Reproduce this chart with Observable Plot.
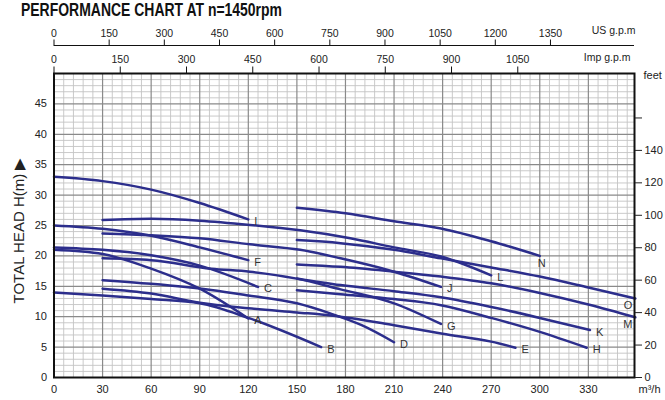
<!DOCTYPE html>
<html>
<head>
<meta charset="utf-8">
<script src="https://cdn.jsdelivr.net/npm/d3@7"></script>
<script src="https://cdn.jsdelivr.net/npm/@observablehq/plot@0.6"></script>
<style>
  html, body { margin: 0; padding: 0; background: #fff; }
  #wrap { position: relative; width: 665px; height: 400px; overflow: hidden; }
  #title {
    position: absolute; left: 21px; top: 0px;
    font-family: "Liberation Sans", Arial, sans-serif;
    font-weight: bold; font-size: 18px; color: #111; white-space: nowrap;
    transform-origin: left top; display: inline-block; line-height: 21px;
  }
  #chart { position: absolute; left: 0; top: 0; }
</style>
</head>
<body>
<div id="wrap">
  <div id="chart"></div>
  <div id="title">PERFORMANCE CHART AT n=1450rpm</div>
</div>
<script>
// ---- tick labels ----
const flowTicks = [0, 30, 60, 90, 120, 150, 180, 210, 240, 270, 300, 330];      // m³/h
const headTicks = [0, 5, 10, 15, 20, 25, 30, 35, 40, 45];                          // m
const feetTicks = [0, 20, 40, 60, 80, 100, 120, 140, 160];                         // feet (right)
const usGpmTicks = [0, 150, 300, 450, 600, 750, 900, 1050, 1200, 1350];            // US g.p.m
const impGpmTicks = [0, 150, 300, 450, 600, 750, 900, 1050];                       // Imp g.p.m

// ---- unit conversions used by the secondary axes ----
const US_GPM_PER_M3H = 4.403;
const IMP_GPM_PER_M3H = 3.666;
const M_PER_FOOT_SCALE = 0.2668;   // the chart's feet scale, expressed in metres of the left axis

// ---- curves: [flow m³/h, head m] ----
const curveLabels = ["A","B","C","D","E","F","G","H","I","J","K","L","M","N","O"];
const curveI = [[0,33.0],[30,32.3],[60,30.9],[90,28.7],[120,26.0]];
const curveF = [[0,25.0],[30,24.45],[60,23.3],[90,21.4],[120,19.3]];
const curveC = [[0,21.4],[30,21.0],[60,20.1],[90,18.4],[126,14.9]];
const curveA = [[0,21.0],[30,20.3],[60,17.9],[90,14.6],[120,9.7]];
const curveB = [[0,14.0],[30,13.5],[60,12.9],[90,12.2],[120,9.8],[165,5.0]];
const curveE = [[30,14.6],[60,13.8],[90,12.3],[120,11.4],[150,10.7],[171,10.2],[210,8.6],[240,7.2],[270,5.9],[285,4.9]];
const curveD = [[30,16.0],[60,15.4],[97,14.4],[120,13.5],[150,12.2],[171,10.5],[190,8.6],[210,5.8]];
const curveG = [[30,19.6],[60,19.3],[97,17.9],[121,17.4],[149,16.3],[177,14.5],[210,12.2],[239,8.8]];
const curveJ = [[30,23.7],[60,23.4],[90,22.9],[121,21.9],[152,21.0],[177,19.6],[210,17.4],[239,14.9]];
const curveL = [[30,25.9],[60,26.1],[90,25.8],[121,25.1],[152,24.2],[183,22.9],[210,21.4],[239,19.9],[270,16.8]];
const curveN = [[150,27.9],[180,27.0],[210,25.7],[239,24.5],[270,22.4],[300,20.0]];
const curveO = [[150,22.6],[177,22.1],[210,21.0],[239,19.6],[270,18.1],[300,16.6],[330,14.8],[359,13.0]];
const curveM = [[150,18.6],[177,18.2],[210,17.4],[239,16.6],[270,15.5],[300,13.9],[330,12.0],[359,9.9]];
const curveK = [[150,16.3],[177,15.2],[210,14.2],[239,13.2],[270,11.6],[300,9.8],[331,7.8]];
const curveH = [[150,14.35],[177,13.7],[210,12.9],[239,11.9],[270,9.8],[300,7.5],[329,4.9]];

const curves = {A: curveA, B: curveB, C: curveC, D: curveD, E: curveE, F: curveF, G: curveG, H: curveH,
                I: curveI, J: curveJ, K: curveK, L: curveL, M: curveM, N: curveN, O: curveO};

const rows = curveLabels.flatMap(k => curves[k].map(([q, h]) => ({curve: k, q, h})));
const ends = curveLabels.map(k => { const p = curves[k][curves[k].length - 1]; return {curve: k, q: p[0], h: p[1]}; });
const endsRight = ends.filter(d => d.curve === "M" || d.curve === "O");
const endsBelow = ends.filter(d => d.curve === "N");
const endsMain = ends.filter(d => !["M","O","N"].includes(d.curve));

// ---- layout ----
const W = 665, H = 400;
const mL = 53.5, mR = 31, mT = 73, mB = 23;
const X_MAX = 358.5, Y_MAX = 50;
const pxToY = (pxAboveTop) => Y_MAX + pxAboveTop * Y_MAX / (H - mT - mB);

const minorX = d3.range(0, X_MAX, 6).filter(v => v % 30 !== 0);
const majorX = d3.range(30, X_MAX, 30);
const minorY = d3.range(1, Y_MAX, 1).filter(v => v % 5 !== 0);
const majorY = d3.range(5, Y_MAX, 5);

const fontFam = "Liberation Sans, Arial, Helvetica, sans-serif";
const lineColor = "#2c2e8c";

const chart = Plot.plot({
  width: W, height: H,
  marginLeft: mL, marginRight: mR, marginTop: mT, marginBottom: mB,
  x: {domain: [0, X_MAX]},
  y: {domain: [0, Y_MAX]},
  style: {fontFamily: fontFam, fontSize: "11px", background: "transparent", color: "#222"},
  marks: [
    // grid
    Plot.ruleX(minorX, {stroke: "#c4c4c4", strokeWidth: 0.9}),
    Plot.ruleY(minorY, {stroke: "#c4c4c4", strokeWidth: 0.9}),
    Plot.ruleX(majorX, {stroke: "#8a8a8a", strokeWidth: 1.2}),
    Plot.ruleY(majorY, {stroke: "#8a8a8a", strokeWidth: 1.2}),
    // curves
    Plot.line(rows, {x: "q", y: "h", z: "curve", curve: "monotone-x", stroke: lineColor, strokeWidth: 2.5}),
    // curve letters
    Plot.text(endsMain, {x: "q", y: "h", text: "curve", dx: 6, dy: 2, textAnchor: "start", fontSize: 11, fill: "#333"}),
    Plot.text(endsRight, {x: "q", y: "h", text: "curve", dx: -3, dy: 7, textAnchor: "end", fontSize: 11, fill: "#333"}),
    Plot.text(endsBelow, {x: "q", y: "h", text: "curve", dx: 2, dy: 8, textAnchor: "middle", fontSize: 11, fill: "#333"}),
    // frame
    Plot.frame({stroke: "#111", strokeWidth: 2}),
    // bottom / left axes
    Plot.axisX(flowTicks, {anchor: "bottom", tickSize: 0, tickPadding: 8, label: null, fontSize: 11}),
    Plot.axisY(headTicks, {anchor: "left", tickSize: 0, tickPadding: 7, label: null, fontSize: 11}),
    // right axis in feet
    Plot.axisY(feetTicks.map(f => f * M_PER_FOOT_SCALE), {
      anchor: "right", tickSize: 7, tickPadding: 3, label: null, fontSize: 11,
      tickFormat: d => { const f = Math.round(d / M_PER_FOOT_SCALE); return f === 160 ? "" : String(f); }
    }),
    Plot.text(["feet"], {frameAnchor: "top-right", dx: 9, dy: 2, lineAnchor: "middle", textAnchor: "start", fontSize: 11}),
    Plot.text(["m³/h"], {frameAnchor: "bottom-right", dx: 4, dy: 12, lineAnchor: "middle", textAnchor: "start", fontSize: 11}),
    Plot.text(["TOTAL HEAD H(m) ▶"], {frameAnchor: "left", dx: -34.5, dy: 5, rotate: -90, textAnchor: "middle", lineAnchor: "middle", fontSize: 15, letterSpacing: 0.5}),
    // top axis: US g.p.m
    Plot.ruleY([pxToY(28)], {x1: 0, x2: X_MAX, stroke: "#111", strokeWidth: 1}),
    Plot.ruleX(usGpmTicks, {x: d => d / US_GPM_PER_M3H, y1: pxToY(28), y2: pxToY(33.5), stroke: "#111", strokeWidth: 1}),
    Plot.text(usGpmTicks, {x: d => d / US_GPM_PER_M3H, text: d => String(d), frameAnchor: "top", dy: -40, lineAnchor: "middle", fontSize: 10.5}),
    Plot.text(["US g.p.m"], {frameAnchor: "top-right", dx: 1, dy: -43, lineAnchor: "middle", textAnchor: "end", fontSize: 10.5}),
    // top axis: Imp g.p.m
    Plot.ruleX(impGpmTicks, {x: d => d / IMP_GPM_PER_M3H, y1: Y_MAX, y2: pxToY(6.5), stroke: "#111", strokeWidth: 1}),
    Plot.text(impGpmTicks, {x: d => d / IMP_GPM_PER_M3H, text: d => String(d), frameAnchor: "top", dy: -14, lineAnchor: "middle", fontSize: 10.5}),
    Plot.text(["Imp g.p.m"], {frameAnchor: "top-right", dx: -4, dy: -16, lineAnchor: "middle", textAnchor: "end", fontSize: 10.5})
  ]
});
document.getElementById("chart").appendChild(chart);

// squeeze the title into the condensed width of the original heading
const t = document.getElementById("title");
const tw = t.getBoundingClientRect().width;
t.style.transform = `scale(${261 / tw}, 1)`;
</script>
</body>
</html>
